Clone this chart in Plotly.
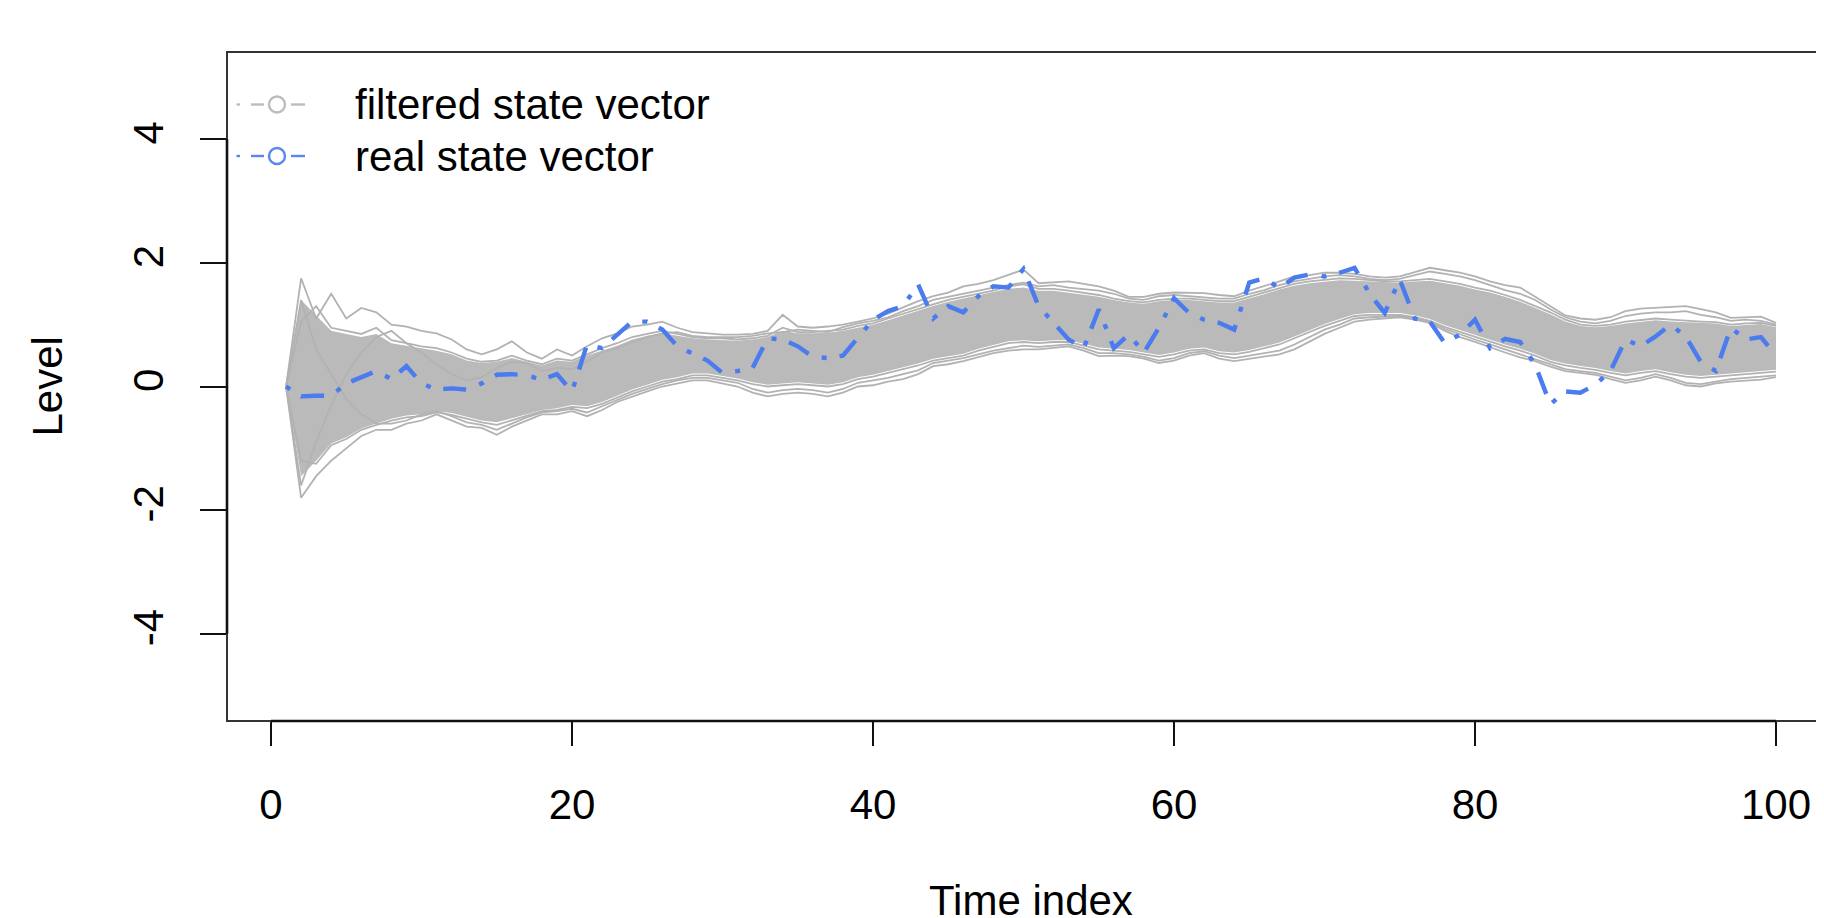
import plotly.graph_objects as go

# ---------------- data ----------------
time_index = list(range(1, 101))

real_state = [
    0.00, -0.16, -0.15, -0.15, 0.05, 0.15, 0.25, 0.12, 0.33, 0.05,
    -0.05, -0.03, -0.05, 0.05, 0.19, 0.20, 0.18, 0.11, 0.20, -0.08,
    0.68, 0.62, 0.84, 1.05, 1.05, 0.92, 0.65, 0.54, 0.42, 0.22,
    0.25, 0.30, 0.78, 0.76, 0.65, 0.48, 0.46, 0.50, 0.80, 1.08,
    1.22, 1.30, 1.65, 1.10, 1.30, 1.20, 1.46, 1.62, 1.60, 1.90,
    1.30, 1.03, 0.76, 0.62, 1.25, 0.62, 0.84, 0.55, 0.95, 1.43,
    1.19, 1.08, 1.03, 0.92, 1.68, 1.75, 1.59, 1.76, 1.81, 1.78,
    1.84, 1.92, 1.50, 1.19, 1.73, 1.10, 1.05, 0.70, 0.84, 1.08,
    0.62, 0.77, 0.72, 0.35, -0.29, -0.08, -0.10, 0.03, 0.25, 0.76,
    0.65, 0.81, 1.00, 0.81, 0.40, 0.25, 0.95, 0.76, 0.80, 0.50,
]

# dense core of the filtered state vectors (upper / lower edge)
filtered_core_hi = [
    0.00, 1.40, 1.15, 0.90, 0.85, 0.80, 0.85, 0.70, 0.66, 0.62,
    0.58, 0.52, 0.42, 0.38, 0.40, 0.46, 0.40, 0.34, 0.42, 0.40,
    0.50, 0.58, 0.66, 0.76, 0.82, 0.86, 0.82, 0.78, 0.76, 0.75,
    0.74, 0.76, 0.80, 0.90, 0.86, 0.86, 0.87, 0.90, 0.95, 1.00,
    1.07, 1.15, 1.22, 1.30, 1.37, 1.42, 1.47, 1.52, 1.58, 1.60,
    1.55, 1.55, 1.52, 1.49, 1.45, 1.40, 1.36, 1.34, 1.38, 1.40,
    1.40, 1.38, 1.36, 1.36, 1.42, 1.49, 1.57, 1.63, 1.67, 1.70,
    1.72, 1.71, 1.70, 1.68, 1.68, 1.70, 1.71, 1.67, 1.63, 1.57,
    1.52, 1.45, 1.37, 1.27, 1.17, 1.05, 0.98, 0.96, 0.98, 1.02,
    1.05, 1.07, 1.05, 1.04, 1.03, 1.02, 0.98, 1.00, 1.01, 0.96,
]
filtered_core_lo = [
    0.00, -1.45, -1.20, -0.92, -0.82, -0.68, -0.60, -0.52, -0.47, -0.45,
    -0.40, -0.43, -0.49, -0.55, -0.58, -0.52, -0.45, -0.38, -0.35, -0.30,
    -0.32, -0.25, -0.15, -0.05, 0.03, 0.11, 0.15, 0.21, 0.21, 0.17,
    0.13, 0.07, 0.03, 0.05, 0.07, 0.05, 0.03, 0.07, 0.15, 0.19,
    0.25, 0.31, 0.37, 0.45, 0.49, 0.53, 0.61, 0.67, 0.73, 0.75,
    0.73, 0.75, 0.75, 0.69, 0.63, 0.61, 0.59, 0.55, 0.51, 0.55,
    0.61, 0.63, 0.57, 0.55, 0.59, 0.65, 0.71, 0.81, 0.91, 1.01,
    1.09, 1.17, 1.19, 1.19, 1.19, 1.15, 1.09, 0.99, 0.91, 0.83,
    0.75, 0.68, 0.61, 0.53, 0.43, 0.37, 0.33, 0.30, 0.25, 0.21,
    0.25, 0.28, 0.23, 0.19, 0.17, 0.19, 0.21, 0.23, 0.25, 0.27,
]

# individual filtered paths that stand out of the core
filtered_path_1 = [
    0.00, 1.75, 1.10, 1.50, 1.10, 1.27, 1.20, 1.00, 0.97, 0.90,
    0.86, 0.76, 0.60, 0.52, 0.60, 0.73, 0.55, 0.45, 0.60, 0.50,
    0.65, 0.78, 0.86, 0.97, 1.00, 1.05, 0.95, 0.88, 0.86, 0.84,
    0.84, 0.85, 0.90, 1.16, 0.97, 0.95, 0.97, 1.00, 1.05, 1.10,
    1.18, 1.28, 1.38, 1.46, 1.52, 1.62, 1.66, 1.72, 1.80, 1.89,
    1.67, 1.68, 1.70, 1.66, 1.62, 1.55, 1.45, 1.45, 1.50, 1.52,
    1.51, 1.51, 1.48, 1.46, 1.55, 1.62, 1.70, 1.78, 1.80, 1.84,
    1.84, 1.82, 1.78, 1.76, 1.78, 1.85, 1.92, 1.88, 1.84, 1.78,
    1.70, 1.64, 1.60, 1.45, 1.30, 1.15, 1.10, 1.08, 1.12, 1.22,
    1.26, 1.27, 1.28, 1.30, 1.25, 1.20, 1.11, 1.12, 1.13, 1.03,
]
filtered_path_2 = [
    0.00, 1.05, 1.30, 0.95, 0.90, 0.85, 0.95, 0.75, 0.70, 0.65,
    0.62, 0.55, 0.45, 0.40, 0.42, 0.50, 0.42, 0.36, 0.45, 0.42,
    0.52, 0.62, 0.70, 0.80, 0.85, 0.90, 0.85, 0.80, 0.78, 0.78,
    0.76, 0.78, 0.82, 0.95, 0.88, 0.88, 0.90, 0.92, 0.98, 1.02,
    1.10, 1.18, 1.25, 1.33, 1.40, 1.45, 1.50, 1.55, 1.62, 1.65,
    1.58, 1.58, 1.55, 1.52, 1.48, 1.42, 1.38, 1.36, 1.40, 1.42,
    1.42, 1.40, 1.38, 1.38, 1.45, 1.52, 1.60, 1.66, 1.70, 1.73,
    1.75, 1.74, 1.72, 1.70, 1.70, 1.72, 1.74, 1.70, 1.66, 1.60,
    1.55, 1.48, 1.40, 1.30, 1.20, 1.08, 1.00, 0.98, 1.00, 1.05,
    1.08, 1.10, 1.08, 1.06, 1.05, 1.04, 1.00, 1.02, 1.03, 0.98,
]
filtered_path_3 = [
    0.00, -1.20, -1.25, -0.95, -0.85, -0.70, -0.62, -0.55, -0.50, -0.48,
    -0.42, -0.46, -0.52, -0.58, -0.62, -0.55, -0.48, -0.40, -0.38, -0.33,
    -0.35, -0.28, -0.18, -0.08, 0.00, 0.08, 0.12, 0.18, 0.18, 0.14,
    0.10, 0.04, 0.00, 0.02, 0.04, 0.02, 0.00, 0.04, 0.12, 0.16,
    0.22, 0.28, 0.34, 0.42, 0.46, 0.50, 0.58, 0.64, 0.70, 0.72,
    0.70, 0.72, 0.72, 0.66, 0.60, 0.58, 0.56, 0.52, 0.48, 0.52,
    0.58, 0.60, 0.54, 0.52, 0.56, 0.62, 0.68, 0.78, 0.88, 0.98,
    1.06, 1.14, 1.16, 1.16, 1.16, 1.12, 1.06, 0.96, 0.88, 0.80,
    0.72, 0.65, 0.58, 0.50, 0.40, 0.34, 0.30, 0.27, 0.22, 0.18,
    0.22, 0.25, 0.20, 0.16, 0.14, 0.16, 0.18, 0.20, 0.22, 0.24,
]
filtered_path_4 = [
    0.00, -1.80, -1.45, -1.20, -1.00, -0.80, -0.70, -0.70, -0.60, -0.55,
    -0.45, -0.55, -0.65, -0.67, -0.78, -0.65, -0.55, -0.45, -0.45, -0.40,
    -0.48, -0.38, -0.25, -0.16, -0.08, 0.00, 0.05, 0.10, 0.10, 0.05,
    0.00, -0.10, -0.16, -0.12, -0.10, -0.12, -0.16, -0.10, 0.00, 0.02,
    0.08, 0.12, 0.20, 0.33, 0.36, 0.41, 0.48, 0.54, 0.58, 0.60,
    0.60, 0.62, 0.65, 0.58, 0.49, 0.50, 0.49, 0.45, 0.38, 0.42,
    0.50, 0.54, 0.45, 0.41, 0.45, 0.49, 0.52, 0.60, 0.72, 0.85,
    0.95, 1.05, 1.08, 1.10, 1.12, 1.08, 1.03, 0.90, 0.80, 0.72,
    0.63, 0.55, 0.47, 0.41, 0.32, 0.25, 0.22, 0.19, 0.12, 0.06,
    0.10, 0.16, 0.10, 0.02, 0.00, 0.05, 0.08, 0.10, 0.11, 0.15,
]
filtered_path_5 = [
    0.00, -1.60, -0.90, -0.30, 0.20, 0.55, 0.80, 0.90, 0.70, 0.55,
    0.35, 0.20, 0.10, 0.15, 0.30, 0.40, 0.38, 0.25, 0.30, 0.28,
    0.40, 0.55, 0.62, 0.72, 0.80, 0.86, 0.88, 0.82, 0.80, 0.80,
    0.80, 0.82, 0.86, 0.88, 0.92, 0.90, 0.88, 0.96, 1.02, 1.06,
    1.12, 1.22, 1.30, 1.40, 1.45, 1.50, 1.56, 1.60, 1.64, 1.68,
    1.62, 1.64, 1.60, 1.58, 1.55, 1.50, 1.42, 1.40, 1.46, 1.48,
    1.46, 1.45, 1.42, 1.42, 1.50, 1.56, 1.64, 1.70, 1.74, 1.78,
    1.80, 1.78, 1.74, 1.72, 1.74, 1.80, 1.86, 1.82, 1.78, 1.72,
    1.64, 1.56, 1.50, 1.40, 1.25, 1.12, 1.05, 1.02, 1.06, 1.14,
    1.18, 1.20, 1.20, 1.22, 1.16, 1.12, 1.06, 1.08, 1.06, 1.00,
]
filtered_path_6 = [
    0.00, 1.40, 0.60, 0.20, -0.20, -0.45, -0.60, -0.60, -0.55, -0.45,
    -0.40, -0.48, -0.58, -0.62, -0.70, -0.60, -0.50, -0.42, -0.40, -0.36,
    -0.42, -0.32, -0.22, -0.12, -0.04, 0.04, 0.10, 0.14, 0.14, 0.10,
    0.06, -0.04, -0.10, -0.06, -0.04, -0.06, -0.10, -0.04, 0.06, 0.10,
    0.14, 0.20, 0.26, 0.38, 0.42, 0.46, 0.52, 0.58, 0.62, 0.66,
    0.64, 0.66, 0.68, 0.62, 0.54, 0.54, 0.52, 0.48, 0.42, 0.46,
    0.54, 0.57, 0.50, 0.46, 0.50, 0.55, 0.58, 0.68, 0.80, 0.92,
    1.00, 1.10, 1.12, 1.13, 1.14, 1.10, 1.05, 0.93, 0.84, 0.76,
    0.68, 0.60, 0.52, 0.45, 0.36, 0.28, 0.25, 0.22, 0.16, 0.10,
    0.14, 0.20, 0.14, 0.06, 0.04, 0.08, 0.12, 0.14, 0.16, 0.18,
]
filtered_paths = [filtered_path_1, filtered_path_2, filtered_path_3,
                  filtered_path_4, filtered_path_5, filtered_path_6]

x_tick_values = [0, 20, 40, 60, 80, 100]
x_tick_labels = ["0", "20", "40", "60", "80", "100"]
y_tick_values = [-4, -2, 0, 2, 4]
y_tick_labels = ["-4", "-2", "0", "2", "4"]
legend_labels = ["filtered state vector", "real state vector"]

for s in [real_state, filtered_core_hi, filtered_core_lo] + filtered_paths:
    assert len(s) == len(time_index), len(s)

# ---------------- styling ----------------
GREY_FILL = "#bababa"
GREY = "#b2b2b2"
BLUE = "#4a7bef"
FONT = "Liberation Sans, Arial, Helvetica, sans-serif"
FS = 42

OFF = 8                      # default page margin of the html body
W, H = 1824 - OFF, 918 - OFF
PL_PAGE, PT_PAGE, PBOT_PAGE = 227, 52, 721   # plot area edges on the page
L = PL_PAGE - OFF
T = PT_PAGE - OFF
B = H - (PBOT_PAGE - OFF)
PW = W - L
PH = H - T - B
PX_PER_X = 15.05


def px(p):
    return (p - PL_PAGE) / PW


def py(q):
    return (PBOT_PAGE - q) / PH


fig = go.Figure()

# dense core of grey paths
fig.add_trace(go.Scatter(x=time_index, y=filtered_core_hi, mode="lines",
                         line=dict(width=0, color=GREY_FILL), hoverinfo="skip",
                         showlegend=False))
fig.add_trace(go.Scatter(x=time_index, y=filtered_core_lo, mode="lines",
                         line=dict(width=0, color=GREY_FILL), fill="tonexty",
                         fillcolor=GREY_FILL, hoverinfo="skip",
                         showlegend=False))
for path in filtered_paths:
    fig.add_trace(go.Scatter(x=time_index, y=path, mode="lines",
                             line=dict(width=1.8, color=GREY),
                             hoverinfo="skip", showlegend=False))

fig.add_trace(go.Scatter(x=time_index, y=real_state, mode="lines",
                         line=dict(width=4.4, color=BLUE,
                                   dash="5px,13px,23px,14px"),
                         hoverinfo="skip", showlegend=False))

x_left = (PL_PAGE - 271) / PX_PER_X
x_right = x_left + PW / PX_PER_X

shapes = [
    # plot box (right side lies beyond the page)
    dict(type="rect", xref="paper", yref="paper", x0=0, x1=1.05, y0=0, y1=1,
         line=dict(color="#333333", width=2), layer="above"),
    # axis lines
    dict(type="line", xref="x", yref="paper", x0=0, x1=100, y0=0, y1=0,
         line=dict(color="#111111", width=2.6), layer="above"),
    dict(type="line", xref="paper", yref="y", x0=0, x1=0, y0=-4, y1=4,
         line=dict(color="#111111", width=2.6), layer="above"),
]

annotations = []
legend_rows = [(104.5, "#bdbdbd"), (156.0, "#5b86f0")]
for (yc, col), label in zip(legend_rows, legend_labels):
    for a, b in [(236.5, 240.0), (251.0, 264.0), (291.0, 305.0)]:
        shapes.append(dict(type="line", xref="paper", yref="paper",
                           x0=px(a), x1=px(b), y0=py(yc), y1=py(yc),
                           line=dict(color=col, width=2.4)))
    shapes.append(dict(type="circle", xref="paper", yref="paper",
                       x0=px(269), x1=px(285), y0=py(yc + 8), y1=py(yc - 8),
                       line=dict(color=col, width=2.4)))
    annotations.append(dict(text=label, xref="paper", yref="paper",
                            x=px(353), y=py(yc), xanchor="left",
                            yanchor="middle", showarrow=False,
                            font=dict(family=FONT, size=FS, color="black")))

annotations.append(dict(text="Time index", xref="paper", yref="paper",
                        x=px(1031), y=py(900), xanchor="center",
                        yanchor="middle", showarrow=False,
                        font=dict(family=FONT, size=FS, color="black")))
annotations.append(dict(text="Level", xref="paper", yref="paper",
                        x=px(46.5), y=py(387), xanchor="center",
                        yanchor="middle", textangle=-90, showarrow=False,
                        font=dict(family=FONT, size=FS, color="black")))

fig.update_layout(
    width=W, height=H,
    margin=dict(l=L, r=0, t=T, b=B, pad=0),
    paper_bgcolor="white", plot_bgcolor="white",
    showlegend=False,
    shapes=shapes, annotations=annotations,
    font=dict(family=FONT, size=FS, color="black"),
    xaxis=dict(range=[x_left, x_right], showgrid=False, zeroline=False,
               showline=False, tickmode="array", tickvals=x_tick_values,
               ticktext=x_tick_labels, ticks="outside", ticklen=24,
               tickwidth=2, tickcolor="#111111", ticklabelstandoff=23,
               tickfont=dict(family=FONT, size=FS, color="black")),
    yaxis=dict(range=[-5.41, 5.41], showgrid=False, zeroline=False,
               showline=False, tickmode="array", tickvals=y_tick_values,
               ticktext=y_tick_labels, ticks="outside", ticklen=26,
               tickwidth=2, tickcolor="#111111", tickangle=-90,
               ticklabelstandoff=20,
               tickfont=dict(family=FONT, size=FS, color="black")),
)

fig.write_html("out.html", config={"displayModeBar": False})
